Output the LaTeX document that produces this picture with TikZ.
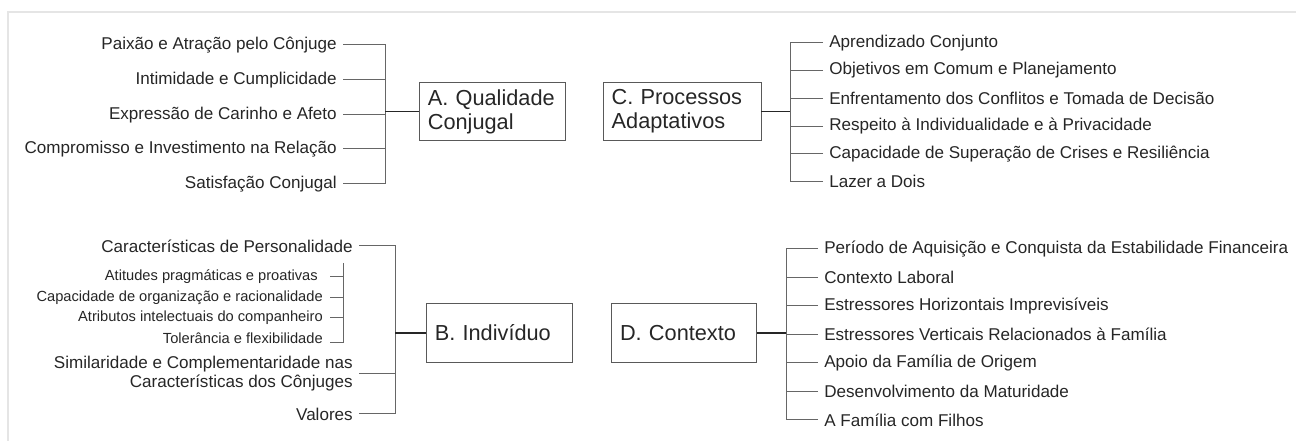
\documentclass[tikz,border=0pt]{standalone}
\usepackage{fontspec}
\setmainfont{Liberation Sans}
\begin{document}
\begin{tikzpicture}[line cap=butt,line join=miter,x=.75pt,y=-.75pt,
  item/.style={inner xsep=4.5pt,inner ysep=1pt,text=black!85,font=\fontsize{12.8}{14.4}\selectfont},
  sub/.style={item,inner xsep=3pt,font=\fontsize{11}{12}\selectfont},
  bloco/.style={draw=black!65,line width=.7pt,text=black!85,align=left,inner xsep=6.5pt,inner ysep=0pt,
    minimum height=44pt,font=\fontsize{16.3}{18}\selectfont},
  ramo/.style={draw=black!60,line width=.75pt},
  tronco/.style={draw=black!85,line width=1.3pt}]
\useasboundingbox (0,0) rectangle (1296,441);
\draw[black!10,line width=.8pt] (8,441)--(8,12)--(1296,12);
% blocos
\node[bloco,text width=97pt] (A) at (492.5,111.5) {A. Qualidade\\Conjugal};
\node[bloco,text width=105.5pt] (C) at (682,111.5) {C. Processos\\Adaptativos};
\node[bloco,text width=97pt] (B) at (499.5,333) {B. Indivíduo};
\node[bloco,text width=96pt] (D) at (684,333) {D. Contexto};
% A
\node[item,anchor=east] (a1) at (343,45) {Paixão e Atração pelo Cônjuge};
\node[item,anchor=east] (a2) at (343,80) {Intimidade e Cumplicidade};
\node[item,anchor=east] (a3) at (343,115) {Expressão de Carinho e Afeto};
\node[item,anchor=east] (a4) at (343,149) {Compromisso e Investimento na Relação};
\node[item,anchor=east] (a5) at (343,184) {Satisfação Conjugal};
\coordinate (ja) at (385,111.5);
\foreach \n in {a1,a2,a3,a4,a5} \draw[ramo] (\n) -| (ja);
\draw[tronco] (ja) -- (A);
% C
\coordinate (jc) at (790,111.5);
\foreach \n/\y/\t in {c1/43/Aprendizado Conjunto,c2/70.5/Objetivos em Comum e Planejamento,
  c3/98.3/Enfrentamento dos Conflitos e Tomada de Decisão,c4/126.1/Respeito à Individualidade e à Privacidade,
  c5/153.9/Capacidade de Superação de Crises e Resiliência,c6/181.7/Lazer a Dois}{
  \node[item,anchor=west] (\n) at (823,\y) {\t};
  \draw[ramo] (\n) -| (jc);
}
\draw[tronco] (C) -- (jc);
% B
\node[item,anchor=east] (b1) at (359,246) {Características de Personalidade};
\node[item,anchor=east,align=right] (b2) at (359,373.5) {Similaridade e Complementaridade nas\\Características dos Cônjuges};
\node[item,anchor=east] (b3) at (359,414) {Valores};
\coordinate (jb) at (395,333);
\draw[ramo] (b1) -| (jb);
\draw[ramo] (b2.east |- 0,374) -| (jb);
\draw[ramo] (b3) -| (jb);
\draw[tronco] (jb) -- (B);
% caracteristicas
\node[sub,anchor=east] (s1) at (322,277) {Atitudes pragmáticas e proativas};
\node[sub,anchor=east] (s2) at (327,298) {Capacidade de organização e racionalidade};
\node[sub,anchor=east] (s3) at (327,318) {Atributos intelectuais do companheiro};
\node[sub,anchor=east] (s4) at (327,338) {Tolerância e flexibilidade};
\coordinate (st) at (343,263);
\coordinate (tk) at (330,0);
\draw[ramo] (st) |- (tk |- 0,343);
\foreach \n in {s1,s2,s3} \draw[ramo] (tk |- \n) -- (st |- \n);
% D
\coordinate (jd) at (786,333);
\foreach \n/\y/\t in {d1/249/Período de Aquisição e Conquista da Estabilidade Financeira,d2/277.5/Contexto Laboral,
  d3/306/Estressores Horizontais Imprevisíveis,d4/334.5/Estressores Verticais Relacionados à Família,
  d5/363/Apoio da Família de Origem,d6/391.5/Desenvolvimento da Maturidade,d7/420/A Família com Filhos}{
  \node[item,anchor=west] (\n) at (818,\y) {\t};
  \draw[ramo] (\n) -| (jd);
}
\draw[tronco] (D) -- (jd);
\end{tikzpicture}
\end{document}
